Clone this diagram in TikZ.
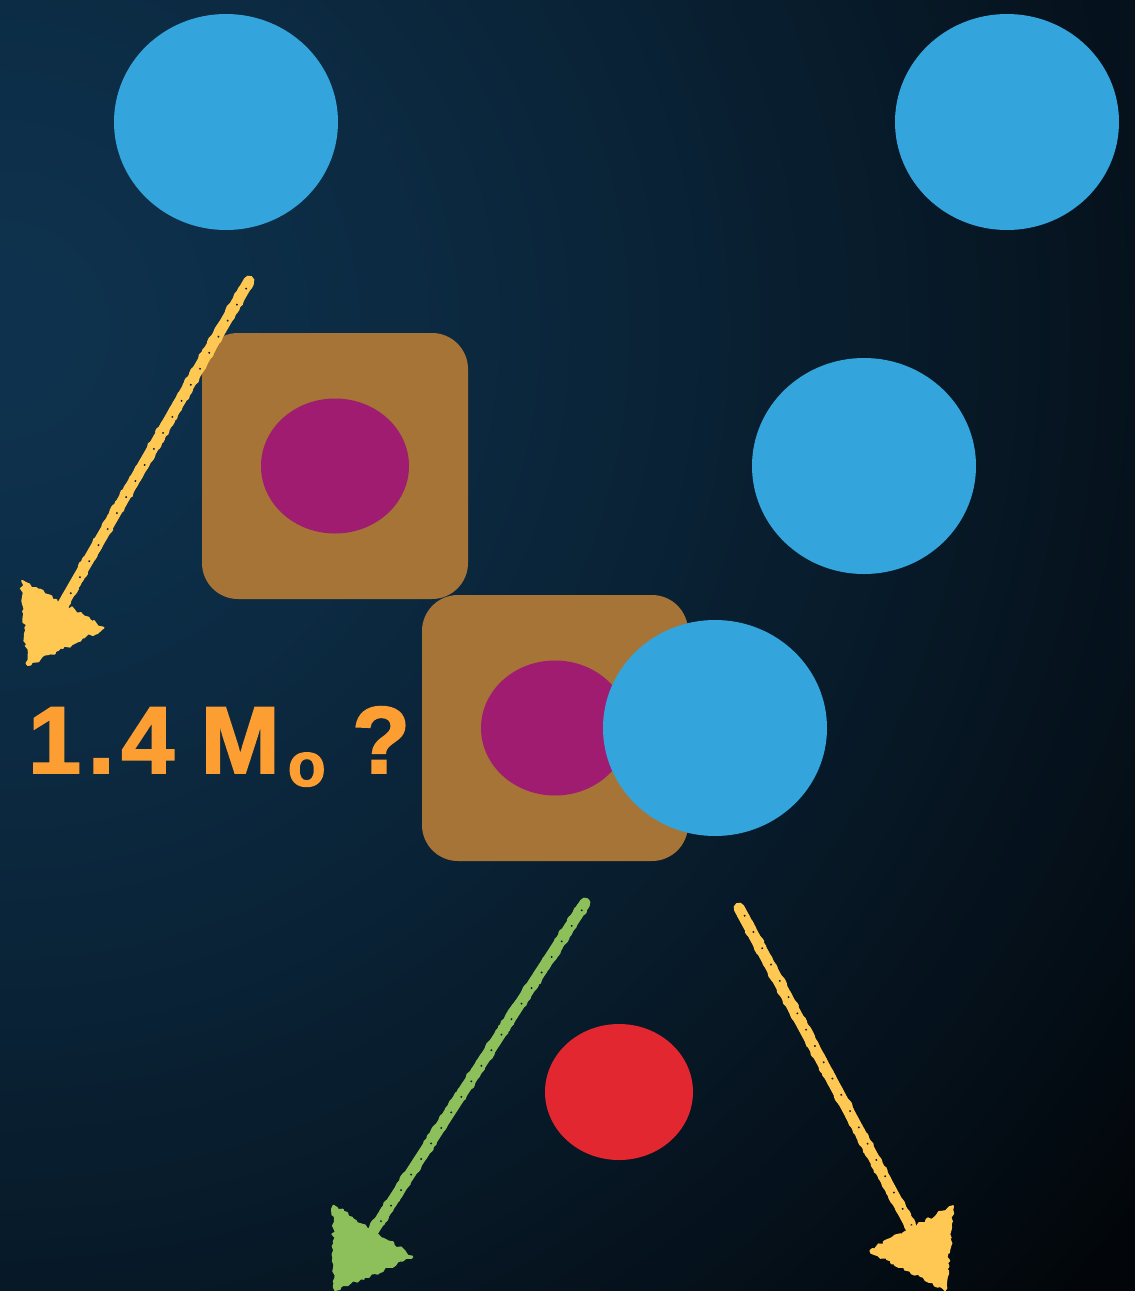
\documentclass[tikz,border=0pt]{standalone}
\usepackage{fontspec}
\newfontfamily\labfont{Liberation Sans}[BoldFeatures={FakeBold=2}]
\usetikzlibrary{shapes.geometric,arrows.meta,calc,decorations.pathmorphing}
\definecolor{bgA}{RGB}{14,50,78}
\definecolor{bgF}{RGB}{2,6,10}
\definecolor{speck}{RGB}{8,28,44}
\definecolor{starblue}{RGB}{52,165,220}
\definecolor{corebrown}{RGB}{165,116,54}
\definecolor{coremag}{RGB}{160,28,112}
\definecolor{dotred}{RGB}{226,39,48}
\definecolor{txtorange}{RGB}{253,158,51}
\definecolor{chalkyel}{RGB}{255,200,83}
\definecolor{chalkgrn}{RGB}{141,192,90}
\tikzset{
  bluestar/.style={ellipse, fill=starblue, inner sep=0pt, minimum width=224pt, minimum height=216pt},
  corebox/.style={rectangle, rounded corners=36pt, fill=corebrown, inner sep=0pt, minimum width=266pt, minimum height=266pt},
  magcore/.style={ellipse, fill=coremag, inner sep=0pt, minimum width=148pt, minimum height=135pt},
  reddot/.style={ellipse, fill=dotred, inner sep=0pt, minimum width=148pt, minimum height=136pt},
  chalkbase/.style={draw=#1, line width=11pt, line cap=round},
  chalkrough/.style={draw=#1, line width=10pt, line cap=round, line join=round,
    decoration={random steps, segment length=3pt, amplitude=1.8pt}, decorate},
  chalkspeck/.style={draw=speck, line width=1.5pt, dash pattern=on 1.5pt off 17pt, shorten <=8pt},
  chalkhead/.style={fill=#1, draw=#1, line width=2pt, line join=round,
    decoration={random steps, segment length=3pt, amplitude=2pt}, decorate},
}
\newcommand{\chalkarrow}[3]{% start, end, colour
  \coordinate (#2-neck) at ($(#2)!62pt!(#1)$);
  \draw[chalkbase=#3] (#1) -- (#2-neck);
  \draw[chalkrough=#3] (#1) -- (#2-neck);
  \draw[chalkspeck, transform canvas={shift={(1.5pt,0pt)}}] (#1) -- (#2-neck);
  \path[chalkhead=#3] (#2)
    -- ($($(#2)!70pt!(#1)$)!47pt!90:(#1)$)
    -- ($($(#2)!70pt!(#1)$)!47pt!-90:(#1)$) -- cycle;
}
\begin{document}
\begin{tikzpicture}[x=1pt,y=-1pt]
\useasboundingbox (0,0) rectangle (1135,1291);
\begin{scope}
  \clip (0,0) rectangle (1135,1291);
  \fill[bgF] (0,0) rectangle (1135,1291);
  \foreach \r in {1500,1490,...,10}{
    \pgfmathsetmacro\w{min(100,100*(\r/1450)^1.35)}
    \fill[bgF!\w!bgA] (0,330) circle (\r pt);
  }
\end{scope}
% stars
\node[bluestar] (s1) at (226,122) {};
\node[bluestar] (s2) at (1007,122) {};
\node[bluestar] (s3) at (864,466) {};
% first core
\node[corebox] (c1) at (335,466) {};
\node[magcore] (m1) at (335,466) {};
% second core
\node[corebox] (c2) at (555,728) {};
\node[magcore] (m2) at (555,728) {};
\node[bluestar] (s4) at (715,728) {};
% red dot
\node[reddot] (r1) at (619,1092) {};
% label
\node[anchor=base west, inner sep=0pt, text=txtorange, font=\labfont\bfseries\fontsize{95}{100}\selectfont] (lbl) at (28,773)
  {1\kern7pt.\kern7pt4 M\kern8pt\raisebox{-13pt}{\fontsize{62}{62}\selectfont o} ?};
% arrows
\coordinate (a1s) at (249,281);
\coordinate (a1e) at (28,665);
\coordinate (a2s) at (585,903);
\coordinate (a2e) at (335,1290);
\coordinate (a3s) at (739,908);
\coordinate (a3e) at (945,1290);
\chalkarrow{a1s}{a1e}{chalkyel}
\chalkarrow{a2s}{a2e}{chalkgrn}
\chalkarrow{a3s}{a3e}{chalkyel}
\end{tikzpicture}
\end{document}
